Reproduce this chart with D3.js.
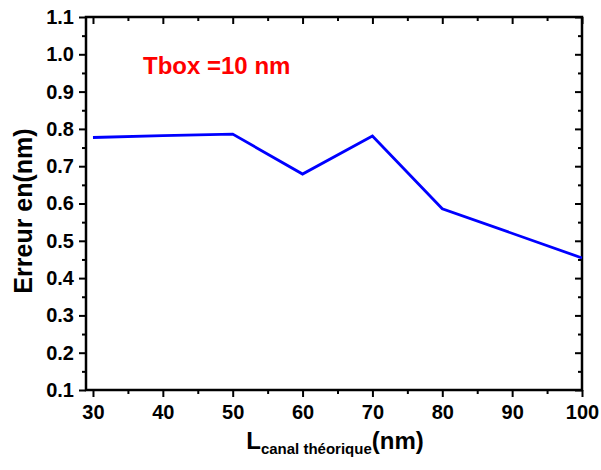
<!DOCTYPE html>
<html><head><meta charset="utf-8">
<script src="https://cdn.jsdelivr.net/npm/d3@7"></script>
<style>body{margin:0;background:#fff}svg{display:block}text{font-family:"Liberation Sans",Arial,sans-serif;font-weight:bold}</style>
</head><body>
<script>
const xValues = [30, 40, 50, 60, 70, 80, 100];
const errValues = [0.777, 0.782, 0.786, 0.679, 0.781, 0.586, 0.454];
const xTicks = [30, 40, 50, 60, 70, 80, 90, 100];
const yTicks = [0.1,0.2,0.3,0.4,0.5,0.6,0.7,0.8,0.9,1.0,1.1];
const annotation = "Tbox =10 nm";

const W = 601, H = 470;
const m = {l: 86, r: 19, t: 17, b: 80};
const svg = d3.select("body").append("svg").attr("width", W).attr("height", H);
const x = d3.scaleLinear().domain([29, 100]).range([m.l, W - m.r]);
const y = d3.scaleLinear().domain([0.1, 1.1]).range([H - m.b, m.t]);
const x0 = x.range()[0], x1 = x.range()[1], y0 = y.range()[0], y1 = y.range()[1];

const xMinor = d3.range(35, 100, 10);
const yMinor = d3.range(0.15, 1.1, 0.1);

function styleAxis(g){
  g.select(".domain").remove();
  g.selectAll("line").attr("stroke", "#000").attr("stroke-width", 2);
  g.selectAll("text").attr("fill", "#000").style("font-size", "20px");
}
// bottom
svg.append("g").attr("transform", `translate(0,${y0})`)
  .call(d3.axisBottom(x).tickValues(xTicks).tickFormat(d3.format("d")).tickSize(7).tickPadding(8))
  .call(styleAxis);
svg.append("g").attr("transform", `translate(0,${y0})`)
  .call(d3.axisBottom(x).tickValues(xMinor).tickFormat("").tickSize(4)).call(styleAxis);
// top (inward)
svg.append("g").attr("transform", `translate(0,${y1})`)
  .call(d3.axisBottom(x).tickValues(xTicks).tickFormat("").tickSize(7)).call(styleAxis);
svg.append("g").attr("transform", `translate(0,${y1})`)
  .call(d3.axisBottom(x).tickValues(xMinor).tickFormat("").tickSize(4)).call(styleAxis);
// left
svg.append("g").attr("transform", `translate(${x0},0)`)
  .call(d3.axisLeft(y).tickValues(yTicks).tickFormat(d3.format(".1f")).tickSize(7).tickPadding(5))
  .call(styleAxis);
svg.append("g").attr("transform", `translate(${x0},0)`)
  .call(d3.axisLeft(y).tickValues(yMinor).tickFormat("").tickSize(4)).call(styleAxis);
// right (inward)
svg.append("g").attr("transform", `translate(${x1},0)`)
  .call(d3.axisRight(y).tickValues(yTicks).tickFormat("").tickSize(-7)).call(styleAxis);
svg.append("g").attr("transform", `translate(${x1},0)`)
  .call(d3.axisRight(y).tickValues(yMinor).tickFormat("").tickSize(-4)).call(styleAxis);

// frame
svg.append("rect").attr("x", x0).attr("y", y1).attr("width", x1 - x0).attr("height", y0 - y1)
  .attr("fill", "none").attr("stroke", "#000").attr("stroke-width", 2.5);

// line
const line = d3.line().x((d, i) => x(xValues[i])).y(d => y(d));
svg.append("path").datum(errValues).attr("d", line)
  .attr("fill", "none").attr("stroke", "#0000ff").attr("stroke-width", 2.8).attr("stroke-linejoin", "miter");

// annotation
svg.append("text").attr("x", 143).attr("y", 74).attr("fill", "#ff0000").style("font-size", "24px").text(annotation);

// y title
svg.append("text").attr("transform", `translate(32,211) rotate(-90)`).attr("text-anchor", "middle")
  .style("font-size", "25px").text("Erreur en(nm)");

// x title
const xt = svg.append("text").attr("x", 335).attr("y", 449).attr("text-anchor", "middle").style("font-size", "24px");
xt.append("tspan").text("L");
xt.append("tspan").attr("dy", 5).style("font-size", "15px").text("canal théorique");
xt.append("tspan").attr("dy", -5).text("(nm)");
</script>
</body></html>
